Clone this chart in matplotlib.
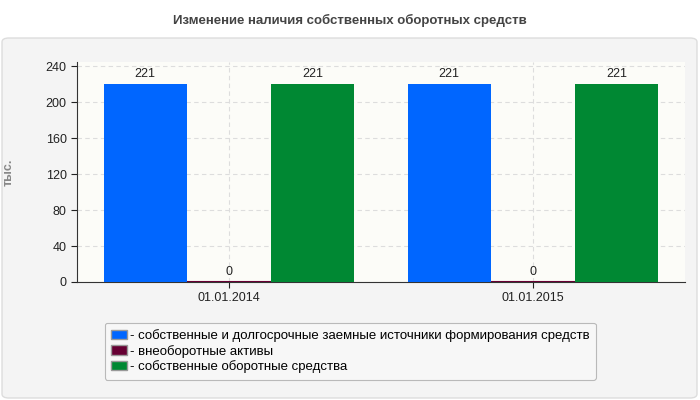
import matplotlib
matplotlib.use("Agg")
import matplotlib.pyplot as plt
from matplotlib.patches import FancyBboxPatch, Patch
import numpy as np

categories = ["01.01.2014", "01.01.2015"]
series_names = ["- собственные и долгосрочные заемные источники формирования средств",
                "- внеоборотные активы",
                "- собственные оборотные средства"]
own_long = [221, 221]
noncurrent = [0, 0]
own_working = [221, 221]
colors = ["#0066ff", "#660033", "#008833"]
yticks = [0, 40, 80, 120, 160, 200, 240]

plt.rcParams['font.family'] = ['Liberation Sans', 'DejaVu Sans']
W, H = 700, 400
fig = plt.figure(figsize=(7, 4), dpi=100)
fig.patch.set_facecolor("white")

def fx(x): return x / W
def fy(y): return 1 - y / H

panel = FancyBboxPatch((fx(2), fy(398)), fx(695), 360 / H,
                       boxstyle="round,pad=0,rounding_size=0.01",
                       transform=fig.transFigure, facecolor="#f4f4f4",
                       edgecolor="#dddddd", lw=1, zorder=-10)
fig.patches.append(panel)
fig.text(0.5, fy(20), "Изменение наличия собственных оборотных средств",
         ha="center", va="center", fontsize=9.5, fontweight="bold", color="#444444")

ax = fig.add_axes([fx(77), fy(282), fx(685 - 77), (282 - 62) / H])
ax.set_zorder(5)
ax.set_facecolor("#fcfcf8")
x = np.arange(len(categories))
w = 0.276
for i, (vals, c) in enumerate(zip([own_long, noncurrent, own_working], colors)):
    bars = ax.bar(x + (i - 1) * w, vals, w * 0.99, color=c, edgecolor=c,
                  lw=1.5 if i == 1 else 0, zorder=3)
    for b, v in zip(bars, vals):
        ax.text(b.get_x() + b.get_width() / 2, v + 4, str(v), ha="center",
                va="bottom", fontsize=9, color="#222222", zorder=4)
ax.set_xlim(-0.5, 1.5)
ax.set_ylim(0, 245)
ax.set_yticks(yticks)
ax.set_xticks(x)
ax.set_xticklabels(categories)
ax.tick_params(labelsize=9, colors="#222222", length=4)
ax.grid(True, ls=(0, (4, 3)), color="#dddddd", lw=0.8, zorder=1)
for s in ["top", "right"]:
    ax.spines[s].set_visible(False)
for s in ["left", "bottom"]:
    ax.spines[s].set_color("#333333")
ax.set_ylabel("тыс.", fontsize=9, color="#888888", fontweight="bold", labelpad=22)

handles = [Patch(facecolor=c, edgecolor="#999999") for c in colors]
leg = fig.legend(handles, series_names, loc="upper left",
                 bbox_to_anchor=(fx(98), fy(316)), fontsize=9.5,
                 frameon=True, fancybox=True, edgecolor="#aaaaaa",
                 facecolor="#f8f8f8", handlelength=1.2, handleheight=0.7,
                 handletextpad=0.2, labelspacing=0.2, borderpad=0.5)
leg.get_frame().set_linewidth(0.8)
leg.set_zorder(6)

fig.savefig("out.png", dpi=100)
